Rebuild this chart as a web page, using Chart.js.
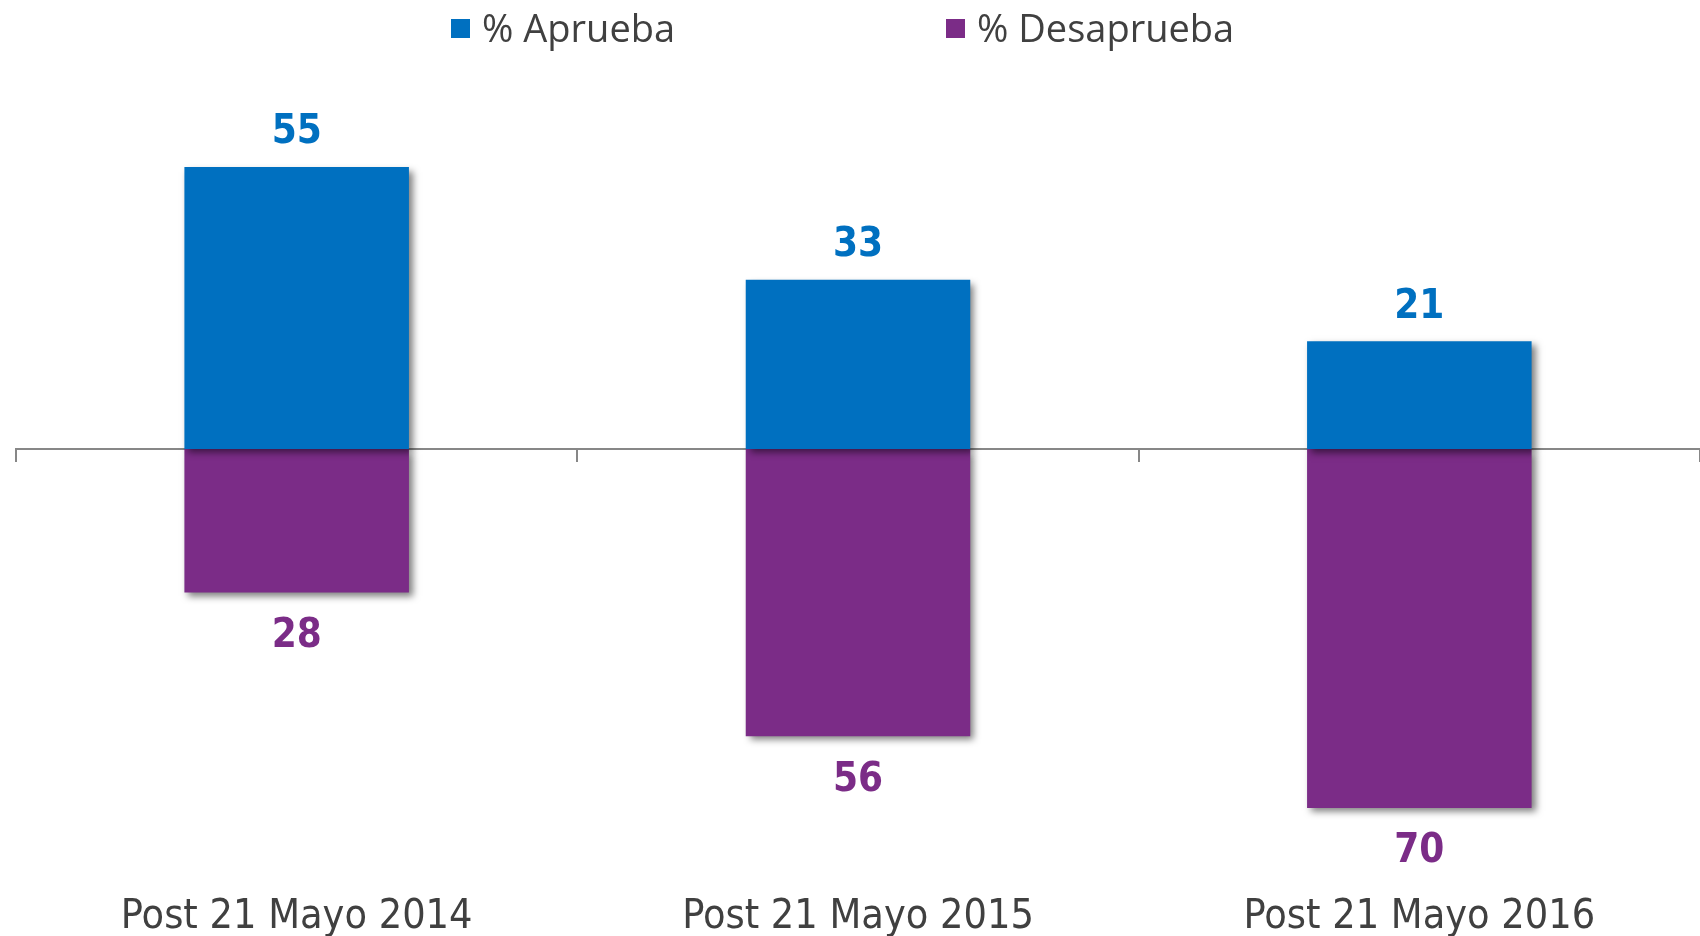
<!DOCTYPE html>
<html>
<head>
<meta charset="utf-8">
<script src="https://cdn.jsdelivr.net/npm/chart.js@4"></script>
<style>
  html, body { margin: 0; padding: 0; background: #fff; }
  #wrap { position: relative; width: 1700px; height: 936px; overflow: hidden; }
  .sq { position: absolute; width: 19px; height: 19px; }
  .lg { position: absolute; font-family: "Open Sans", sans-serif; font-size: 38px; line-height: 38px; color: #404040; white-space: nowrap; }
</style>
</head>
<body>
<div id="wrap">
  <canvas id="chart" width="1700" height="936"></canvas>
  <div class="sq" style="left:451px; top:19px; background:#0070C0;"></div>
  <div class="lg" style="left:482px; top:8px;">% Aprueba</div>
  <div class="sq" style="left:946px; top:19px; background:#7B2C87;"></div>
  <div class="lg" style="left:977px; top:8px;">% Desaprueba</div>
</div>
<script>
let categories = ["Post 21 Mayo 2014", "Post 21 Mayo 2015", "Post 21 Mayo 2016"];
let aprueba = [55, 33, 21];
let desaprueba = [28, 56, 70];

let BLUE = "#0070C0";
let PURPLE = "#7B2C87";
let AXIS = "#878787";
let FONT = "'DejaVu Sans Condensed', 'DejaVu Sans', sans-serif";

// shadow under the bars, like the office chart
let barShadow = {
    id: "barShadow",
    beforeDatasetsDraw(chart) {
        let ctx = chart.ctx;
        ctx.save();
        ctx.shadowColor = "rgba(0,0,0,0.5)";
        ctx.shadowBlur = 7;
        ctx.shadowOffsetX = 4;
        ctx.shadowOffsetY = 4;
    },
    afterDatasetsDraw(chart) {
        chart.ctx.restore();
    }
};

// value labels above / below each bar
let valueLabels = {
    id: "valueLabels",
    afterDraw(chart) {
        let ctx = chart.ctx;
        ctx.save();
        ctx.font = "bold 40px " + FONT;
        ctx.textAlign = "center";
        ctx.textBaseline = "middle";
        chart.data.datasets.forEach((ds, i) => {
            let meta = chart.getDatasetMeta(i);
            meta.data.forEach((bar, j) => {
                let v = ds.data[j];
                ctx.fillStyle = ds.backgroundColor;
                let y = v >= 0 ? bar.y - 34 : bar.y + 44;
                ctx.fillText(String(Math.abs(v)), bar.x, y);
            });
        });
        ctx.restore();
    }
};

let ctx = document.getElementById("chart").getContext("2d");
let chart = new Chart(ctx, {
    type: "bar",
    data: {
        labels: categories,
        datasets: [
            {
                label: "% Aprueba",
                data: aprueba,
                backgroundColor: BLUE,
                categoryPercentage: 1,
                barPercentage: 0.4
            },
            {
                label: "% Desaprueba",
                data: desaprueba.map(v => -v),
                backgroundColor: PURPLE,
                categoryPercentage: 1,
                barPercentage: 0.4
            }
        ]
    },
    options: {
        responsive: false,
        animation: false,
        layout: { padding: { top: 90, left: 16, right: 0, bottom: -37 } },
        plugins: {
            legend: { display: false },
            tooltip: { enabled: false }
        },
        scales: {
            x: {
                stacked: true,
                grid: { display: false, drawTicks: false },
                border: { display: false },
                ticks: {
                    padding: 31,
                    color: "#404040",
                    font: { family: FONT, size: 41 }
                }
            },
            x2: {
                type: "category",
                labels: categories,
                offset: true,
                position: { y: 0 },
                z: 1,
                grid: { offset: true, drawOnChartArea: false, tickLength: 12, color: AXIS, lineWidth: 2 },
                border: { color: AXIS, width: 2 },
                ticks: { display: false }
            },
            y: {
                stacked: true,
                display: false,
                min: -80.5,
                max: 70
            }
        }
    },
    plugins: [barShadow, valueLabels]
});
</script>
</body>
</html>
